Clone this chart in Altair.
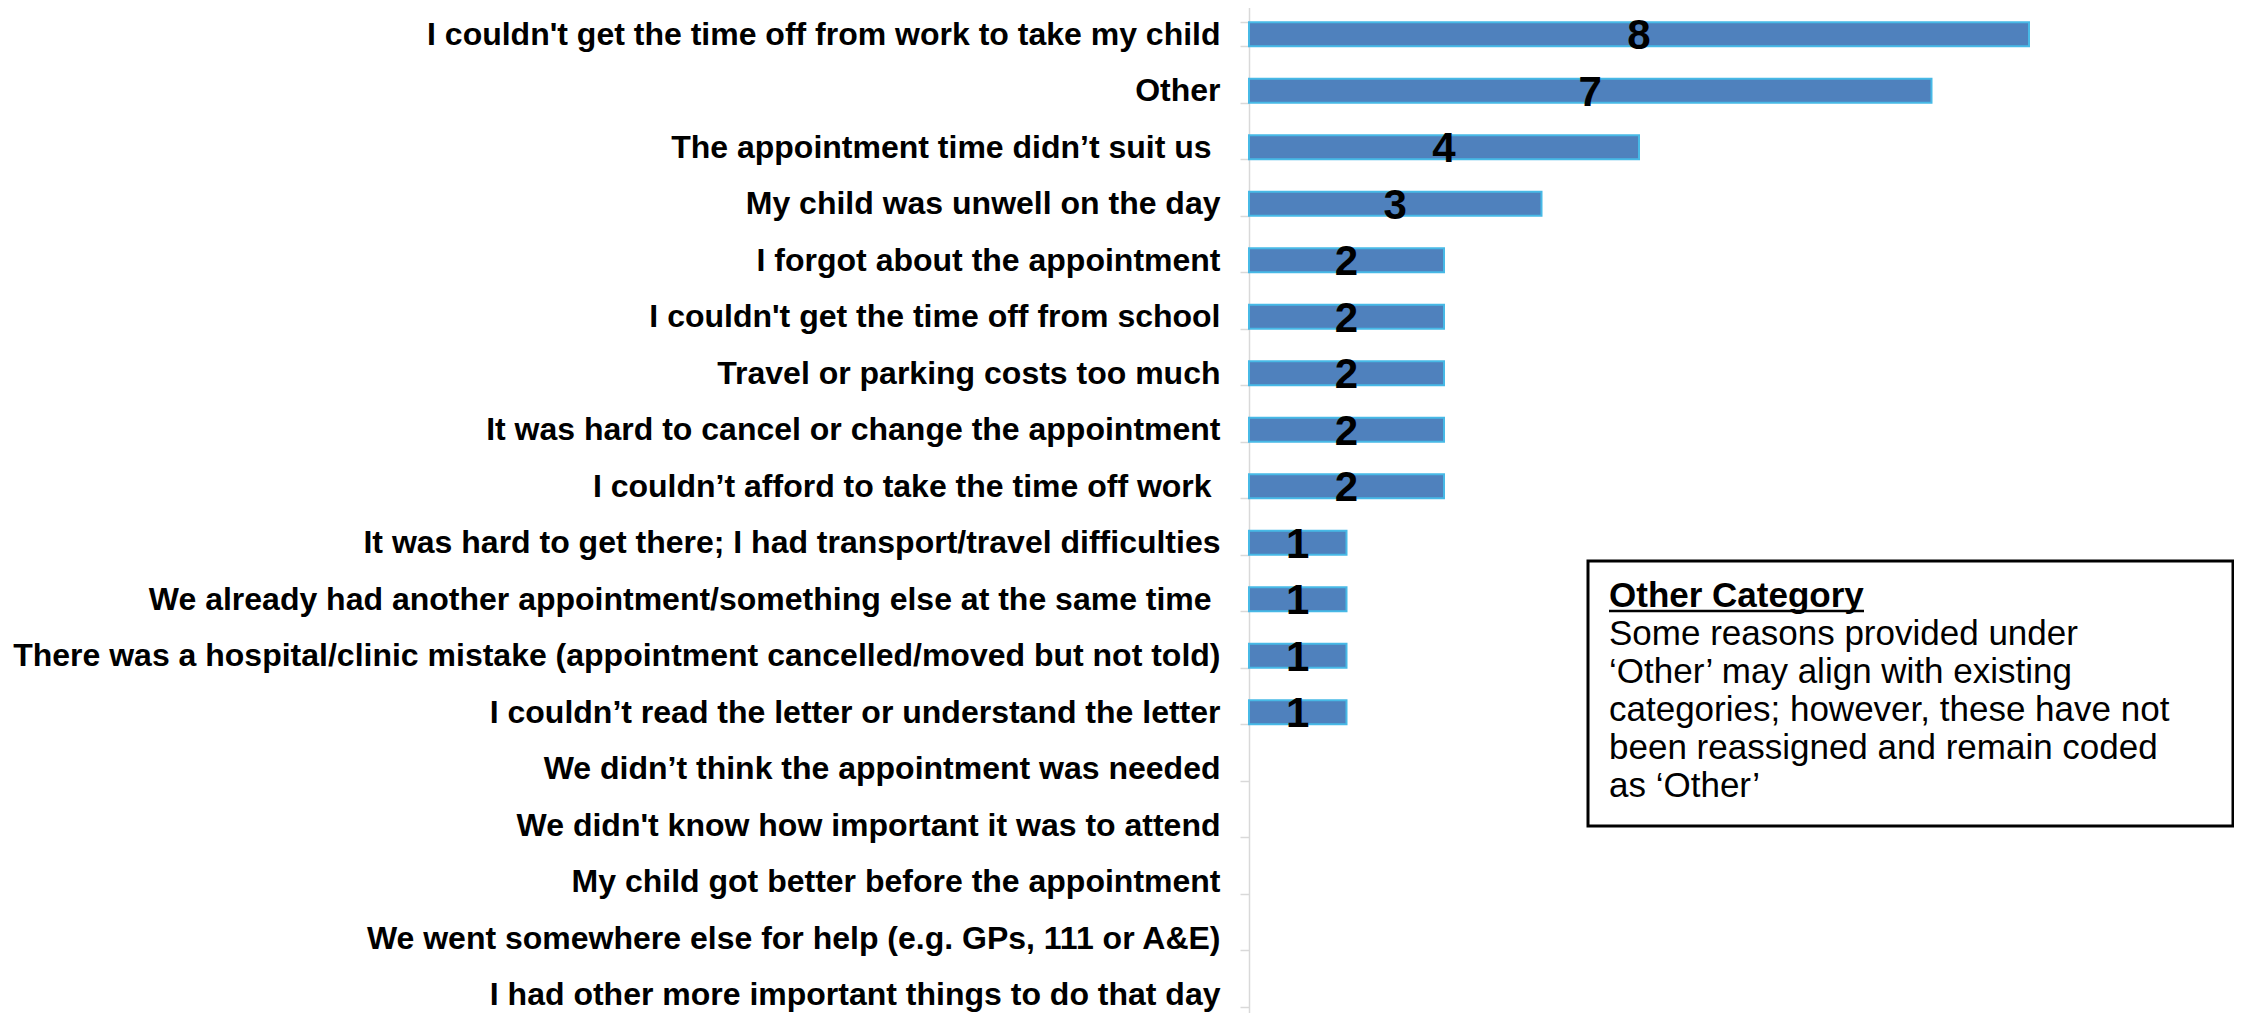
import altair as alt
import pandas as pd

categories = [
    "I couldn't get the time off from work to take my child",
    "Other",
    "The appointment time didn\u2019t suit us\u00a0\u200b",
    "My child was unwell on the day",
    "I forgot about the appointment",
    "I couldn't get the time off from school",
    "Travel or parking costs too much",
    "It was hard to cancel or change the appointment",
    "I couldn\u2019t afford to take the time off work\u00a0\u200b",
    "It was hard to get there; I had transport/travel difficulties",
    "We already had another appointment/something else at the same time\u00a0\u200b",
    "There was a hospital/clinic mistake (appointment cancelled/moved but not told)",
    "I couldn\u2019t read the letter or understand the letter",
    "We didn\u2019t think the appointment was needed",
    "We didn't know how important it was to attend",
    "My child got better before the appointment",
    "We went somewhere else for help (e.g. GPs, 111 or A&E)",
    "I had other more important things to do that day",
]
counts = [8, 7, 4, 3, 2, 2, 2, 2, 2, 1, 1, 1, 1, 0, 0, 0, 0, 0]

box_title = "Other Category"
box_lines = [
    "Some reasons provided under",
    "\u2018Other\u2019 may align with existing",
    "categories; however, these have not",
    "been reassigned and remain coded",
    "as \u2018Other\u2019",
]

FONT = "Liberation Sans, Arial, sans-serif"

df = pd.DataFrame({"reason": categories, "count": counts})
nonzero = df[df["count"] > 0]

y_scale = alt.Scale(domain=categories, range=[-2, 1015],
                    paddingInner=0.575, paddingOuter=0.2875)
y_axis = alt.Axis(title=None, labelFont=FONT, labelFontWeight="bold",
                  labelFontSize=32, labelColor="black", labelLimit=1400,
                  labelPadding=20, tickSize=9, tickColor="#d9d9d9",
                  tickWidth=1.5, domainColor="#d9d9d9", domainWidth=1.5,
                  tickBand="extent", labelAlign="right")
x_scale = alt.Scale(domain=[0, 10])

axis_layer = alt.Chart(df).mark_bar(opacity=0).encode(
    x=alt.X("count:Q", scale=x_scale, axis=None),
    y=alt.Y("reason:N", sort=categories, scale=y_scale, axis=y_axis),
)

bars = alt.Chart(nonzero).mark_bar(fill="#4f81bd", stroke="#47b9e6", strokeWidth=2).encode(
    x=alt.X("count:Q", scale=x_scale, axis=None),
    y=alt.Y("reason:N", sort=categories, scale=y_scale, axis=y_axis),
)

values = alt.Chart(nonzero).transform_calculate(mid="datum.count / 2").mark_text(
    font=FONT, fontWeight="bold", fontSize=42, color="black",
    align="center", baseline="alphabetic", dy=15,
).encode(
    x=alt.X("mid:Q", scale=x_scale, axis=None),
    y=alt.Y("reason:N", sort=categories, scale=y_scale, axis=y_axis),
    text=alt.Text("count:Q"),
)

box = alt.Chart(alt.Data(values=[{"t": box_title}])).mark_rect(
    fill="white", stroke="black", strokeWidth=3
).encode(x=alt.value(339), x2=alt.value(984), y=alt.value(553), y2=alt.value(818))

title = alt.Chart(alt.Data(values=[{"t": box_title}])).mark_text(
    font=FONT, fontWeight="bold", fontSize=35, color="black",
    align="left", baseline="alphabetic",
).encode(x=alt.value(360), y=alt.value(599), text="t:N")

underline = alt.Chart(alt.Data(values=[{"t": box_title}])).mark_rule(
    color="black", strokeWidth=2.5
).encode(x=alt.value(360), x2=alt.value(615), y=alt.value(603))

body = alt.Chart(alt.Data(values=[{"t": box_title}])).mark_text(
    font=FONT, fontSize=35, color="black", align="left",
    baseline="alphabetic", lineHeight=38, text=box_lines,
).encode(x=alt.value(360), y=alt.value(637))

chart = alt.layer(axis_layer, bars, values, box, title, underline, body).properties(
    width=975, height=1005,
    padding={"left": 1241, "top": 0, "right": 10, "bottom": 0},
    autosize=alt.AutoSizeParams(type="none"),
).configure_view(stroke=None)

chart.save("out.html", embed_options={"renderer": "svg", "actions": False})
